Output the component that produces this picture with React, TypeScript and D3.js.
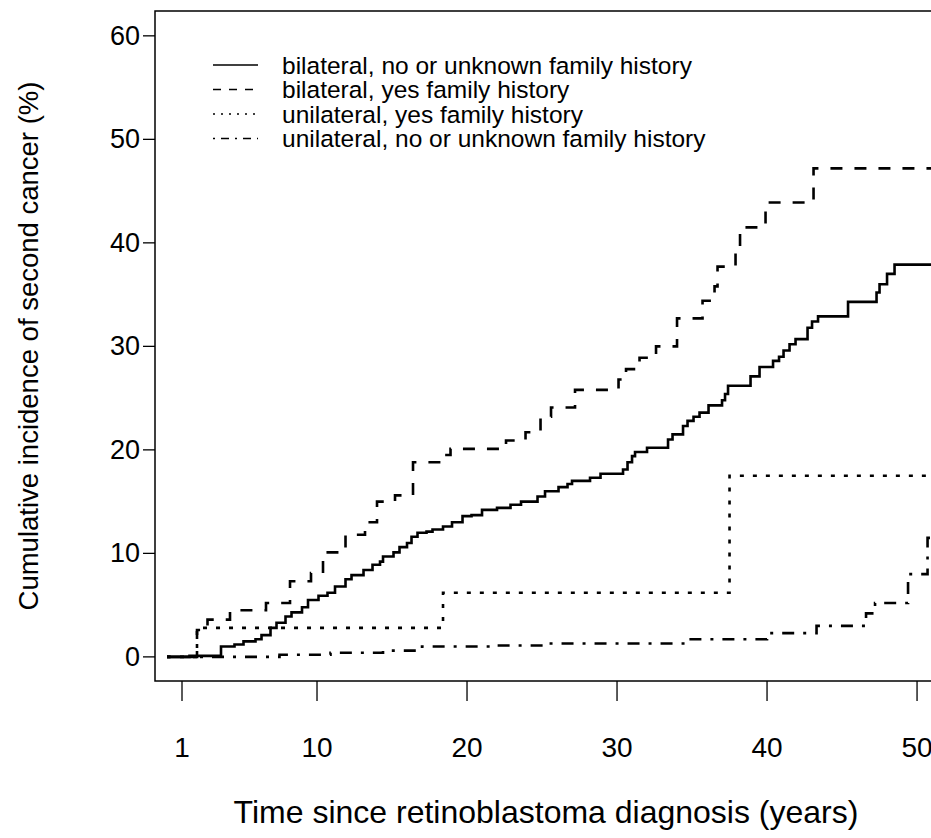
import React from "react";
import * as d3 from "d3";

// step curves (time in years, cumulative incidence in %)
const bilatNoTimes = [0, 1.5, 3.6, 4.5, 5.1, 5.9, 6.3, 6.9, 7.3, 7.9, 8.3, 9.0, 9.4, 10.1, 10.7, 11.2, 11.9, 12.3, 13.1, 13.7, 14.2, 14.4, 15.1, 15.5, 16.0, 16.3, 16.7, 17.3, 17.7, 18.4, 19.0, 19.7, 20.3, 21.0, 22.0, 22.9, 23.6, 24.7, 25.2, 26.1, 26.7, 27.0, 28.2, 28.9, 30.4, 30.7, 31.0, 31.2, 32.0, 33.4, 33.7, 34.4, 34.7, 35.1, 35.5, 36.1, 37.0, 37.2, 37.4, 38.9, 39.5, 40.4, 40.8, 41.1, 41.5, 41.9, 42.7, 43.0, 43.4, 45.4, 47.3, 47.5, 48.0, 48.5, 52];
const bilatNoValues = [0, 0.1, 1.0, 1.2, 1.5, 1.7, 2.1, 2.8, 3.3, 3.9, 4.3, 4.8, 5.5, 5.9, 6.2, 6.8, 7.5, 7.9, 8.4, 8.9, 9.2, 9.7, 10.1, 10.6, 11.0, 11.6, 12.0, 12.1, 12.3, 12.6, 13.0, 13.6, 13.7, 14.2, 14.4, 14.7, 15.0, 15.5, 16.0, 16.4, 16.7, 17.0, 17.3, 17.7, 18.1, 18.8, 19.4, 19.8, 20.2, 21.0, 21.5, 22.3, 22.8, 23.2, 23.6, 24.3, 24.8, 25.4, 26.2, 27.1, 28.0, 28.6, 29.0, 29.6, 30.2, 30.7, 31.8, 32.4, 32.9, 34.3, 35.2, 36.0, 37.0, 37.9, 37.9];

const bilatYesTimes = [0, 2.0, 2.7, 4.2, 6.6, 8.2, 9.6, 10.4, 11.9, 13.2, 14.0, 15.2, 16.4, 18.3, 18.9, 22.6, 23.9, 24.9, 25.6, 27.2, 30.1, 30.6, 31.5, 32.6, 34.0, 35.7, 36.5, 36.7, 37.9, 38.2, 39.9, 43.1, 52];
const bilatYesValues = [0, 2.6, 3.6, 4.5, 5.2, 7.3, 8.1, 10.1, 11.8, 13.0, 15.0, 15.6, 18.8, 19.5, 20.1, 20.9, 21.7, 23.2, 24.1, 25.8, 26.8, 27.8, 28.9, 30.0, 32.7, 34.4, 35.8, 37.7, 39.5, 41.5, 43.9, 47.2, 47.2];

const unilatYesTimes = [0, 2.0, 18.4, 37.5, 52];
const unilatYesValues = [0, 2.8, 6.2, 17.5, 17.5];

const unilatNoTimes = [0, 7.5, 10.9, 14.4, 17.0, 21.9, 25.2, 34.7, 40.0, 43.3, 46.6, 47.2, 49.4, 50.7, 52];
const unilatNoValues = [0, 0.2, 0.4, 0.6, 1.0, 1.1, 1.3, 1.7, 2.3, 3.0, 4.2, 5.2, 8.0, 11.5, 11.5];

const xTicks = [1, 10, 20, 30, 40, 50];
const yTicks = [0, 10, 20, 30, 40, 50, 60];

const series = [
  { label: "bilateral, no or unknown family history", times: bilatNoTimes, values: bilatNoValues, dash: null, legendDash: null },
  { label: "bilateral, yes family history", times: bilatYesTimes, values: bilatYesValues, dash: "12 12", legendDash: "8 8" },
  { label: "unilateral, yes family history", times: unilatYesTimes, values: unilatYesValues, dash: "4 9", legendDash: "2 6" },
  { label: "unilateral, no or unknown family history", times: unilatNoTimes, values: unilatNoValues, dash: "3 9 12 9", legendDash: "2 6 8 6" },
];

export default function App() {
  const width = 931;
  const height = 838;
  const box = { left: 155, right: 937, top: 11, bottom: 681 };
  const font = "'Liberation Sans', Arial, Helvetica, sans-serif";

  const x = d3.scaleLinear().domain([-0.8, 51.33]).range([box.left, box.right]);
  const y = d3.scaleLinear().domain([-2.33, 62.4]).range([box.bottom, box.top]);

  const line = d3
    .line<[number, number]>()
    .x((d) => x(d[0]))
    .y((d) => y(d[1]))
    .curve(d3.curveStepAfter);

  return (
    <svg width={width} height={height} style={{ position: "absolute", left: 0, top: 0, background: "#fff" }}>
      <defs>
        <clipPath id="plotArea">
          <rect x={box.left} y={box.top} width={box.right - box.left} height={box.bottom - box.top} />
        </clipPath>
      </defs>

      {/* curves */}
      <g clipPath="url(#plotArea)">
        {series.map((s) => (
          <path
            key={s.label}
            d={line(s.times.map((t, i) => [t, s.values[i]])) || ""}
            fill="none"
            stroke="#000"
            strokeWidth={2.6}
            strokeDasharray={s.dash || undefined}
          />
        ))}
      </g>

      {/* box */}
      <rect
        x={box.left}
        y={box.top}
        width={box.right - box.left}
        height={box.bottom - box.top}
        fill="none"
        stroke="#000"
        strokeWidth={1.5}
      />

      {/* y axis */}
      {yTicks.map((t) => (
        <g key={"y" + t}>
          <line x1={box.left - 12} x2={box.left} y1={y(t)} y2={y(t)} stroke="#000" strokeWidth={1.3} />
          <text
            x={box.left - 15}
            y={y(t)}
            textAnchor="end"
            dominantBaseline="central"
            fontSize={27}
            fontFamily={font}
            fill="#000"
          >
            {t}
          </text>
        </g>
      ))}

      {/* x axis */}
      {xTicks.map((t) => (
        <g key={"x" + t}>
          <line x1={x(t)} x2={x(t)} y1={box.bottom} y2={box.bottom + 20} stroke="#000" strokeWidth={1.3} />
          <text
            x={x(t)}
            y={box.bottom + 76}
            textAnchor="middle"
            fontSize={28}
            fontFamily={font}
            fill="#000"
          >
            {t}
          </text>
        </g>
      ))}

      {/* axis titles */}
      <text
        x={(box.left + box.right) / 2}
        y={823}
        textAnchor="middle"
        fontSize={32}
        fontFamily={font}
        fill="#000"
      >
        Time since retinoblastoma diagnosis (years)
      </text>
      <text
        transform={`translate(38, ${(box.top + box.bottom) / 2}) rotate(-90)`}
        textAnchor="middle"
        fontSize={27.5}
        fontFamily={font}
        fill="#000"
      >
        Cumulative incidence of second cancer (%)
      </text>

      {/* legend */}
      {series.map((s, i) => {
        const ly = 65 + i * 24.5;
        return (
          <g key={"leg" + i}>
            <line
              x1={213}
              x2={258}
              y1={ly}
              y2={ly}
              stroke="#000"
              strokeWidth={1.3}
              strokeDasharray={s.legendDash || undefined}
            />
            <text x={282} y={ly} dominantBaseline="central" fontSize={24.5} fontFamily={font} fill="#000">
              {s.label}
            </text>
          </g>
        );
      })}
    </svg>
  );
}
